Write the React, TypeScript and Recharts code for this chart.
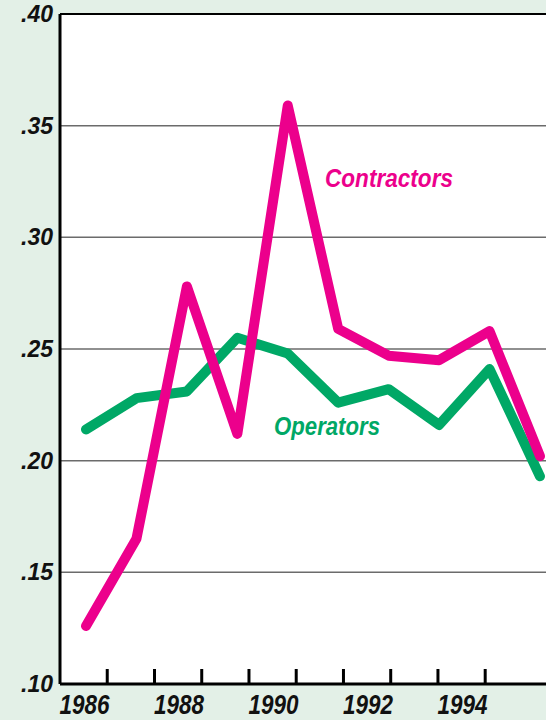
import { LineChart, Line, XAxis, YAxis, CartesianGrid, ReferenceLine } from 'recharts';

const years = [1986, 1987, 1988, 1989, 1990, 1991, 1992, 1993, 1994, 1995];
const contractors = [0.126, 0.165, 0.278, 0.212, 0.359, 0.259, 0.247, 0.245, 0.258, 0.202];
const operators = [0.214, 0.228, 0.231, 0.255, 0.248, 0.226, 0.232, 0.216, 0.241, 0.193];
const yTicks = [0.1, 0.15, 0.2, 0.25, 0.3, 0.35, 0.4];
const yearLabels = [1986, 1988, 1990, 1992, 1994];
// tick marks sit between the years
const yearTickMarks = [1986.5, 1987.5, 1988.5, 1989.5, 1990.5, 1991.5, 1992.5, 1993.5, 1994.5];

const data = years.map((year, i) => ({
  year,
  contractors: contractors[i],
  operators: operators[i],
}));

const PINK = '#ec008c';
const GREEN = '#00a866';
const BG = '#e3f0e7';

// condensed look: Liberation Sans squeezed with textLength
const sans = "'Liberation Sans', Arial, sans-serif";

const renderXTick = (props: any) => {
  const { x, y, payload } = props;
  const v = payload.value;
  if (Number.isInteger(v)) {
    return (
      <text
        x={x + 1}
        y={y + 30}
        textAnchor="middle"
        fill="#111"
        fontFamily={sans}
        fontStyle="italic"
        fontWeight={700}
        fontSize={27}
        textLength={50}
        lengthAdjust="spacingAndGlyphs"
      >
        {v}
      </text>
    );
  }
  return <line x1={x} x2={x} y1={y} y2={y - 15} stroke="#000" strokeWidth={3} />;
};

export default function App() {
  return (
    <div
      style={{
        position: 'fixed',
        left: 0,
        top: 0,
        width: 546,
        height: 720,
        overflow: 'hidden',
        background: BG,
      }}
    >
      <LineChart width={620} height={720} data={data} margin={{ top: 14, right: 20, left: 0, bottom: 0 }}>
        <CartesianGrid vertical={false} stroke="#6b6b6b" strokeWidth={1.5} fill="#fff" fillOpacity={1} />
        <XAxis
          xAxisId={0}
          dataKey="year"
          type="number"
          domain={[1985.5, 1996.93]}
          allowDataOverflow
          ticks={[...yearLabels, ...yearTickMarks]}
          interval={0}
          tickSize={0}
          tickMargin={0}
          tickLine={false}
          tick={renderXTick}
          axisLine={{ stroke: '#000', strokeWidth: 3 }}
          height={36}
        />
        <XAxis
          xAxisId="data"
          dataKey="year"
          type="number"
          domain={[1985.4845, 1996.19]}
          allowDataOverflow
          hide
        />
        <YAxis
          type="number"
          domain={[0.1, 0.4]}
          ticks={yTicks}
          interval={0}
          width={60}
          tickSize={0}
          tickMargin={7}
          tickLine={false}
          axisLine={{ stroke: '#000', strokeWidth: 3 }}
          tickFormatter={(v: number) => '.' + (v * 100).toFixed(0)}
          tick={{ fill: '#111', fontFamily: sans, fontWeight: 700, fontStyle: 'italic', fontSize: 23 }}
        />
        <ReferenceLine y={0.4} stroke="#000" strokeWidth={2} />
        <Line
          xAxisId="data"
          type="linear"
          dataKey="operators"
          stroke={GREEN}
          strokeWidth={10}
          strokeLinecap="round"
          strokeLinejoin="round"
          dot={false}
          isAnimationActive={false}
        />
        <Line
          xAxisId="data"
          type="linear"
          dataKey="contractors"
          stroke={PINK}
          strokeWidth={10}
          strokeLinecap="round"
          strokeLinejoin="round"
          dot={false}
          isAnimationActive={false}
        />
      </LineChart>
      <svg
        width={546}
        height={720}
        style={{ position: 'absolute', left: 0, top: 0, pointerEvents: 'none' }}
      >
        <text
          x={325}
          y={187}
          fill={PINK}
          fontFamily={sans}
          fontWeight={700}
          fontStyle="italic"
          fontSize={26}
          textLength={128}
          lengthAdjust="spacingAndGlyphs"
        >
          Contractors
        </text>
        <text
          x={274}
          y={435}
          fill={GREEN}
          fontFamily={sans}
          fontWeight={700}
          fontStyle="italic"
          fontSize={26}
          textLength={106}
          lengthAdjust="spacingAndGlyphs"
        >
          Operators
        </text>
      </svg>
    </div>
  );
}
